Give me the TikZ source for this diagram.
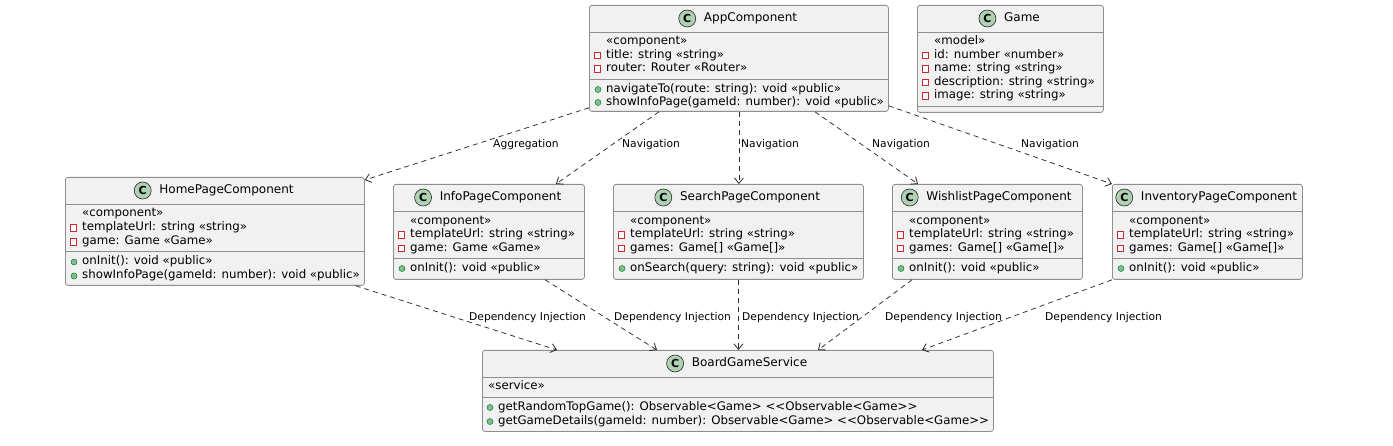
\documentclass[tikz,border=0pt]{standalone}
\usepackage{fontspec}
\setmainfont{DejaVu Sans}
\usetikzlibrary{arrows.meta,calc}
\definecolor{boxfill}{HTML}{F1F1F1}
\definecolor{boxline}{HTML}{8E8E8E}
\definecolor{cfill}{HTML}{ADD1B2}
\definecolor{privred}{HTML}{C82930}
\definecolor{pubgreen}{HTML}{84BE84}
\definecolor{publine}{HTML}{038048}
\definecolor{arrowc}{HTML}{2A2A2A}

\tikzset{
 classbox/.style={draw=boxline, fill=boxfill, line width=0.8pt, rounded corners=2.5pt, anchor=north west, inner sep=0pt},
 sepline/.style={draw=boxline, line width=0.8pt},
 cname/.style={font=\fontsize{12}{14}\selectfont, inner sep=0pt, text height=9pt, text depth=2.5pt},
 cicon/.style={circle, draw=black!85, fill=cfill, line width=0.6pt, minimum size=17pt, inner sep=0pt, font=\fontsize{11}{12}\selectfont\bfseries},
 member/.style={font=\fontsize{11.8}{14}\selectfont, anchor=west, inner sep=0pt, text height=8.5pt, text depth=2.5pt},
 privicon/.style={rectangle, draw=privred, fill=white, line width=1pt, minimum width=6.5pt, minimum height=6.5pt, inner sep=0pt},
 pubicon/.style={circle, fill=pubgreen, draw=publine, line width=0.5pt, minimum size=6pt, inner sep=0pt},
 dep/.style={draw=arrowc, line width=0.75pt, dash pattern=on 5pt off 4pt, -{Straight Barb[length=5.5pt,width=9pt,line width=0.8pt]}},
 elabel/.style={font=\fontsize{10.7}{12}\selectfont, anchor=west, inner sep=0pt, text height=8pt, text depth=2.5pt},
}

\newcommand\ClassBox[7]{%
  \node[classbox, minimum width={#4pt-#2pt}, minimum height={#5pt-#3pt}] (#1) at (#2,#3) {};
  \draw[sepline] (#2,#6) -- (#4,#6);
  \draw[sepline] (#2,#7) -- (#4,#7);
}
\newcommand\ClassHead[4]{%
  \node[cname] (#1) at (#2+12,#3) {#4};
  \node[cicon] (#1-c) at ([xshift=-16.5pt]#1.west) {C};
}
\newcommand\Stereo[4]{\node[member] (#1) at (#2+17,#3) {#4};}
\newcommand\Attr[4]{%
  \node[member] (#1) at (#2+17,#3) {#4};
  \node[privicon] (#1-i) at ([xshift=-8.3pt]#1.west) {};
}
\newcommand\Meth[4]{%
  \node[member] (#1) at (#2+17,#3) {#4};
  \node[pubicon] (#1-i) at ([xshift=-8pt]#1.west) {};
}

\begin{document}
\begin{tikzpicture}[x=1pt,y=-1pt]
\useasboundingbox (0,0) rectangle (1393,446);

% AppComponent
\ClassBox{app}{589}{5}{888}{111}{32}{79}
\ClassHead{app-name}{738.5}{18.5}{AppComponent}
\Stereo{app-s}{589}{42}{«component»}
\Attr{app-a1}{589}{55.5}{title: string «string»}
\Attr{app-a2}{589}{69}{router: Router «Router»}
\Meth{app-m1}{589}{89.5}{navigateTo(route: string): void «public»}
\Meth{app-m2}{589}{102.5}{showInfoPage(gameId: number): void «public»}

% Game
\ClassBox{game}{917}{5}{1103}{112}{32}{106}
\ClassHead{game-name}{1010}{18.5}{Game}
\Stereo{game-s}{917}{42}{«model»}
\Attr{game-a1}{917}{55.5}{id: number «number»}
\Attr{game-a2}{917}{69}{name: string «string»}
\Attr{game-a3}{917}{82.5}{description: string «string»}
\Attr{game-a4}{917}{96}{image: string «string»}

% HomePageComponent
\ClassBox{home}{65}{177}{364}{285}{204}{251}
\ClassHead{home-name}{214.5}{190.5}{HomePageComponent}
\Stereo{home-s}{65}{214}{«component»}
\Attr{home-a1}{65}{228}{templateUrl: string «string»}
\Attr{home-a2}{65}{242}{game: Game «Game»}
\Meth{home-m1}{65}{262}{onInit(): void «public»}
\Meth{home-m2}{65}{276}{showInfoPage(gameId: number): void «public»}

% InfoPageComponent
\ClassBox{info}{393}{184}{584}{279}{211}{258}
\ClassHead{info-name}{488.5}{197.5}{InfoPageComponent}
\Stereo{info-s}{393}{221.5}{«component»}
\Attr{info-a1}{393}{235}{templateUrl: string «string»}
\Attr{info-a2}{393}{248.5}{game: Game «Game»}
\Meth{info-m1}{393}{268.5}{onInit(): void «public»}

% SearchPageComponent
\ClassBox{search}{613}{184}{863}{279}{211}{258}
\ClassHead{search-name}{738}{197.5}{SearchPageComponent}
\Stereo{search-s}{613}{221.5}{«component»}
\Attr{search-a1}{613}{235}{templateUrl: string «string»}
\Attr{search-a2}{613}{248.5}{games: Game[] «Game[]»}
\Meth{search-m1}{613}{268.5}{onSearch(query: string): void «public»}

% WishlistPageComponent
\ClassBox{wish}{892}{184}{1082}{279}{211}{258}
\ClassHead{wish-name}{987}{197.5}{WishlistPageComponent}
\Stereo{wish-s}{892}{221.5}{«component»}
\Attr{wish-a1}{892}{235}{templateUrl: string «string»}
\Attr{wish-a2}{892}{248.5}{games: Game[] «Game[]»}
\Meth{wish-m1}{892}{268.5}{onInit(): void «public»}

% InventoryPageComponent
\ClassBox{inv}{1112}{184}{1302}{279}{211}{258}
\ClassHead{inv-name}{1207}{197.5}{InventoryPageComponent}
\Stereo{inv-s}{1112}{221.5}{«component»}
\Attr{inv-a1}{1112}{235}{templateUrl: string «string»}
\Attr{inv-a2}{1112}{248.5}{games: Game[] «Game[]»}
\Meth{inv-m1}{1112}{268.5}{onInit(): void «public»}

% BoardGameService
\ClassBox{bgs}{482}{350}{993}{431}{377}{397}
\ClassHead{bgs-name}{737.5}{363.5}{BoardGameService}
\node[member] (bgs-s) at (488,387) {«service»};
\Meth{bgs-m1}{481}{407.5}{getRandomTopGame(): Observable<Game> <\kern0pt<Observable<Game>\kern0pt>}
\Meth{bgs-m2}{481}{421.5}{getGameDetails(gameId: number): Observable<Game> <\kern0pt<Observable<Game>\kern0pt>}

% Arrows from AppComponent
\draw[dep] ($(app.south west)+(0,-4)$) -- ($(home.north east)+(0,3)$);
\draw[dep] ($(app.south west)+(70,0)$) -- ($(info.north west)+(163,0)$);
\draw[dep] (app.south) -- (app.south |- search.north);
\draw[dep] ($(app.south west)+(226,0)$) -- ($(wish.north west)+(26,0)$);
\draw[dep] ($(app.south east)+(0,-6)$) -- (inv.north west);

\node[elabel] (l-agg) at (493,145) {Aggregation};
\node[elabel] (l-nav1) at (622,145) {Navigation};
\node[elabel] (l-nav2) at (741,145) {Navigation};
\node[elabel] (l-nav3) at (872,145) {Navigation};
\node[elabel] (l-nav4) at (1021,145) {Navigation};

% Dependency injection arrows
\draw[dep] ($(home.south east)+(-9,0)$) -- ($(bgs.north west)+(75,0)$);
\draw[dep] ($(info.south west)+(152,0)$) -- ($(bgs.north west)+(175,0)$);
\draw[dep] (search.south) -- (search.south |- bgs.north);
\draw[dep] ($(wish.south west)+(20,0)$) -- ($(bgs.north west)+(336,0)$);
\draw[dep] (inv.south west) -- ($(bgs.north west)+(440,0)$);

\node[elabel] (l-di1) at (469,318) {Dependency Injection};
\node[elabel] (l-di2) at (614,318) {Dependency Injection};
\node[elabel] (l-di3) at (742,318) {Dependency Injection};
\node[elabel] (l-di4) at (885,318) {Dependency Injection};
\node[elabel] (l-di5) at (1045,318) {Dependency Injection};
\end{tikzpicture}
\end{document}
